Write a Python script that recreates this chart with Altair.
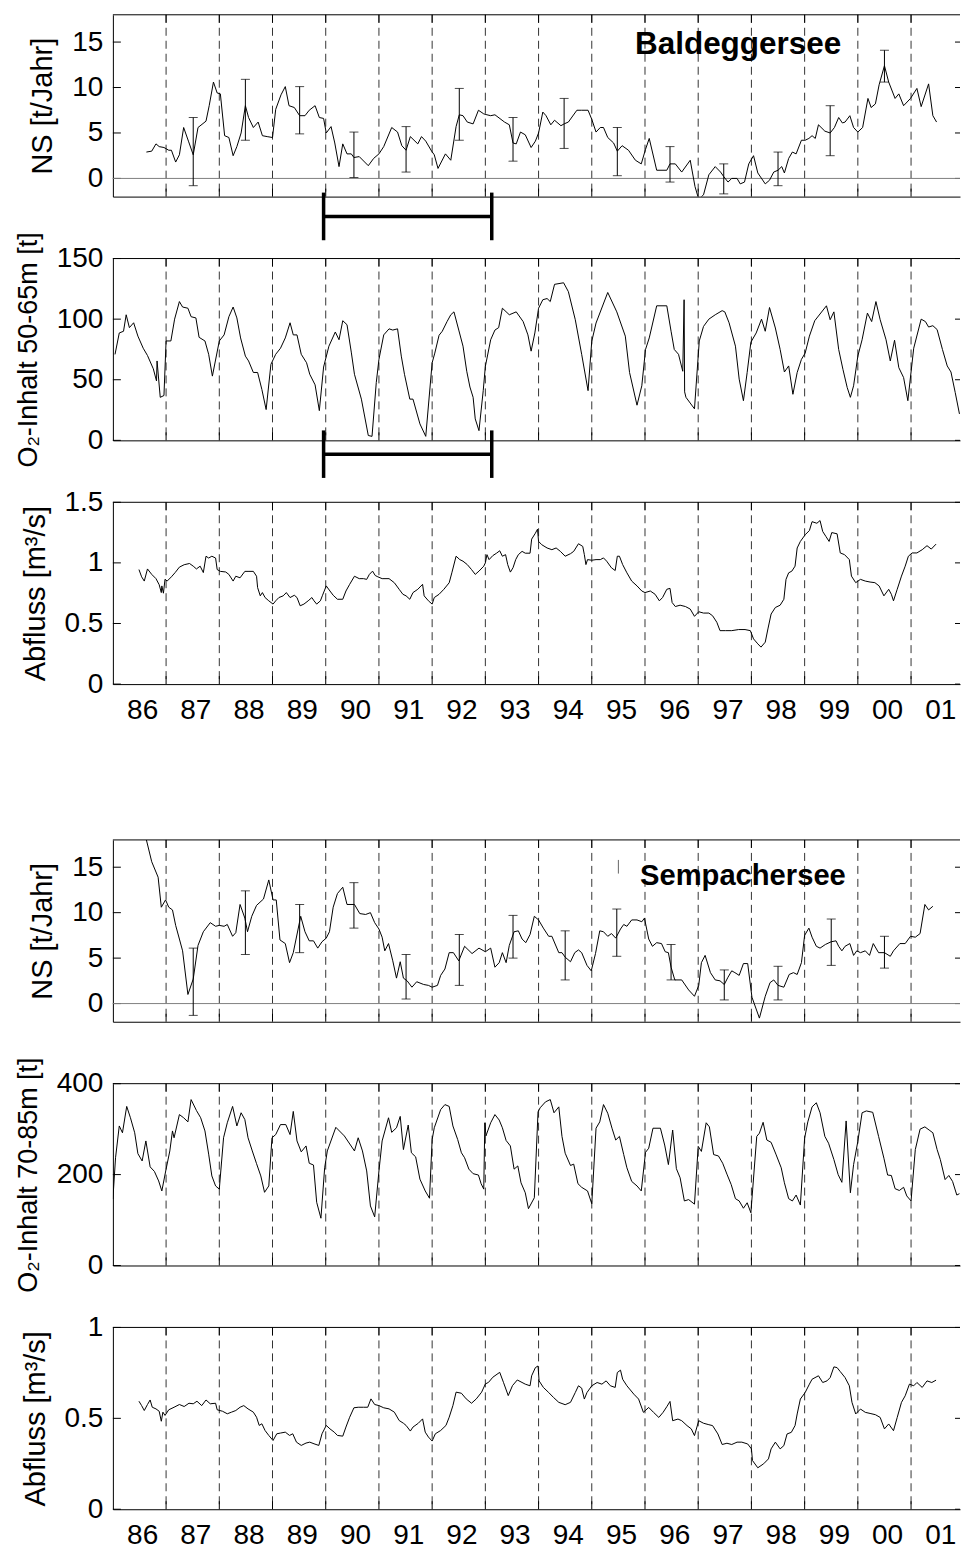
import altair as alt
import pandas as pd

# ---------------- data ----------------
YEAR_BOUNDS = list(range(1987, 2002))
YEAR_LABELS = ["86", "87", "88", "89", "90", "91", "92", "93", "94", "95",
               "96", "97", "98", "99", "00", "01"]

NS_BALDEGG = [
    (1986.63, 2.9), (1986.73, 3.0), (1986.81, 3.8), (1986.87, 3.5), (1986.96, 3.4), (1987.05, 3.1),
    (1987.10, 3.1), (1987.18, 1.8), (1987.25, 2.6), (1987.33, 5.6), (1987.42, 4.1), (1987.51, 2.6),
    (1987.60, 5.6), (1987.75, 6.3), (1987.81, 8.0), (1987.89, 10.6), (1987.96, 9.4), (1988.02, 9.3),
    (1988.10, 4.7), (1988.18, 4.5), (1988.26, 2.5), (1988.33, 3.5), (1988.41, 5.0), (1988.49, 8.0),
    (1988.55, 6.7), (1988.64, 5.6), (1988.73, 6.2), (1988.81, 4.7), (1988.90, 4.6), (1989.00, 4.5),
    (1989.06, 7.6), (1989.16, 9.2), (1989.24, 10.1), (1989.31, 8.0), (1989.41, 7.8), (1989.51, 6.9),
    (1989.61, 6.9), (1989.69, 7.5), (1989.80, 8.0), (1989.88, 6.7), (1989.96, 6.6), (1990.01, 5.0),
    (1990.10, 5.7), (1990.17, 3.9), (1990.25, 1.3), (1990.32, 3.8), (1990.40, 2.7), (1990.48, 2.7),
    (1990.53, 2.3), (1990.63, 2.4), (1990.80, 1.4), (1990.90, 2.2), (1991.00, 2.7), (1991.09, 3.5),
    (1991.24, 5.6), (1991.35, 5.1), (1991.43, 3.6), (1991.51, 3.1), (1991.59, 4.6), (1991.73, 3.8),
    (1991.80, 4.6), (1991.88, 4.1), (1991.99, 3.0), (1992.04, 2.6), (1992.11, 1.1), (1992.25, 2.7),
    (1992.35, 2.0), (1992.45, 5.7), (1992.51, 7.0), (1992.58, 6.9), (1992.66, 6.2), (1992.77, 6.0),
    (1992.87, 7.5), (1992.97, 7.1), (1993.03, 7.0), (1993.10, 6.9), (1993.18, 7.0), (1993.36, 6.2),
    (1993.45, 5.9), (1993.52, 3.9), (1993.58, 3.8), (1993.66, 5.1), (1993.75, 4.8), (1993.86, 3.4),
    (1993.94, 4.1), (1994.00, 5.0), (1994.08, 7.3), (1994.14, 6.9), (1994.23, 5.9), (1994.30, 6.4),
    (1994.42, 5.8), (1994.48, 6.0), (1994.56, 6.2), (1994.72, 7.5), (1994.81, 7.5), (1994.93, 7.5),
    (1995.00, 6.5), (1995.08, 5.1), (1995.16, 5.6), (1995.22, 5.6), (1995.30, 4.5), (1995.41, 3.9),
    (1995.48, 3.0), (1995.57, 3.6), (1995.69, 3.1), (1995.82, 2.0), (1995.93, 1.6), (1996.01, 3.2),
    (1996.08, 4.4), (1996.22, 0.9), (1996.41, 0.9), (1996.47, 1.6), (1996.57, 1.6), (1996.69, 0.7),
    (1996.85, 2.0), (1996.94, -0.9), (1997.01, -2.3), (1997.10, -1.8), (1997.20, 0.4), (1997.32, 1.3),
    (1997.42, 0.7), (1997.48, 0.2), (1997.56, -0.4), (1997.63, 0.0), (1997.73, 0.0), (1997.79, -0.6),
    (1997.87, -0.4), (1997.95, 1.6), (1998.04, 2.5), (1998.12, 0.6), (1998.26, -0.6), (1998.34, -0.2),
    (1998.42, 0.7), (1998.50, 0.9), (1998.57, 1.3), (1998.62, 0.6), (1998.70, 2.2), (1998.77, 2.9),
    (1998.84, 2.7), (1998.94, 4.2), (1999.01, 4.2), (1999.08, 4.4), (1999.14, 4.7), (1999.20, 4.4),
    (1999.26, 5.9), (1999.38, 5.2), (1999.48, 5.0), (1999.56, 5.6), (1999.64, 6.7), (1999.71, 6.1),
    (1999.76, 6.2), (1999.85, 6.9), (1999.92, 5.6), (2000.00, 5.1), (2000.09, 5.6), (2000.19, 8.8),
    (2000.25, 7.8), (2000.33, 8.2), (2000.40, 10.3), (2000.50, 12.4), (2000.58, 10.6), (2000.70, 8.8),
    (2000.77, 9.3), (2000.86, 8.0), (2000.99, 8.8), (2001.11, 9.9), (2001.19, 7.9), (2001.33, 10.4),
    (2001.41, 6.9), (2001.48, 6.2),
]
NS_BALDEGG_ERR = [  # (year, low, high)
    (1987.51, -0.8, 6.7), (1988.49, 4.2, 10.9), (1989.51, 4.9, 10.1), (1990.53, 0.1, 5.1),
    (1991.51, 0.7, 5.7), (1992.51, 4.2, 9.9), (1993.52, 1.9, 6.7), (1994.48, 3.3, 8.8),
    (1995.48, 0.3, 5.6), (1996.47, -0.4, 3.5), (1997.48, -1.7, 1.6), (1998.50, -0.8, 2.9),
    (1999.48, 2.5, 8.0), (2000.50, 10.6, 14.1),
]

O2_BALDEGG = [
    (1986.04, 70.9), (1986.12, 88.6), (1986.20, 90), (1986.25, 103.6), (1986.31, 93), (1986.39, 97),
    (1986.47, 86), (1986.57, 76), (1986.65, 70), (1986.76, 59), (1986.82, 49), (1986.83, 65.5),
    (1986.89, 35.5), (1986.96, 37), (1987.00, 82), (1987.09, 82), (1987.16, 100), (1987.25, 114.5),
    (1987.31, 110), (1987.41, 109), (1987.47, 102), (1987.56, 101), (1987.62, 85), (1987.73, 82),
    (1987.80, 71), (1987.87, 53), (1988.00, 82), (1988.09, 87), (1988.18, 102), (1988.26, 110),
    (1988.33, 101), (1988.40, 84.5), (1988.49, 69.5), (1988.55, 65.5), (1988.64, 56), (1988.72, 56),
    (1988.80, 42), (1988.88, 25.4), (1988.97, 62.7), (1989.06, 71), (1989.15, 76), (1989.24, 84.5),
    (1989.33, 97), (1989.39, 87), (1989.46, 87), (1989.54, 71), (1989.64, 64), (1989.70, 54.5),
    (1989.80, 45.8), (1989.88, 24.5), (1989.96, 60.5), (1990.06, 77.7), (1990.18, 89.4), (1990.25, 83),
    (1990.32, 98.7), (1990.40, 95.4), (1990.48, 72.8), (1990.54, 54.5), (1990.67, 34), (1990.80, 4),
    (1990.87, 3.3), (1990.95, 47.7), (1991.00, 66.8), (1991.09, 87), (1991.19, 92), (1991.26, 91),
    (1991.35, 92), (1991.42, 69.5), (1991.48, 54.5), (1991.58, 34), (1991.64, 34), (1991.77, 13.6),
    (1991.88, 3.3), (1992.00, 64), (1992.05, 72), (1992.13, 86.7), (1992.19, 90), (1992.28, 98),
    (1992.35, 103.6), (1992.41, 106), (1992.50, 91), (1992.58, 77.7), (1992.65, 57), (1992.71, 44),
    (1992.77, 35.5), (1992.81, 17.7), (1992.88, 8), (1992.96, 41), (1993.00, 61), (1993.10, 83),
    (1993.18, 91), (1993.25, 93), (1993.32, 109), (1993.45, 103.6), (1993.58, 106), (1993.71, 98),
    (1993.80, 87), (1993.86, 73.6), (1993.93, 88.6), (1994.00, 109), (1994.08, 116), (1994.16, 117),
    (1994.22, 114.5), (1994.30, 128.7), (1994.47, 130), (1994.56, 122.7), (1994.69, 99.5), (1994.81, 71),
    (1994.93, 41), (1995.00, 81.8), (1995.08, 96.8), (1995.30, 122), (1995.47, 106), (1995.63, 86),
    (1995.71, 56), (1995.85, 29), (1995.94, 45), (1996.01, 75), (1996.08, 84.5), (1996.22, 111),
    (1996.41, 111), (1996.49, 90), (1996.55, 75), (1996.63, 71), (1996.71, 57), (1996.735, 116),
    (1996.745, 40), (1996.77, 35.5), (1996.93, 26), (1997.02, 82), (1997.10, 94), (1997.20, 100),
    (1997.32, 103.6), (1997.45, 107), (1997.50, 106), (1997.58, 97), (1997.70, 77.7), (1997.77, 50.5),
    (1997.85, 32.7), (1997.92, 56), (1997.99, 81), (1998.09, 88.6), (1998.19, 100), (1998.26, 90),
    (1998.34, 109.6), (1998.45, 92.7), (1998.54, 75), (1998.62, 56.4), (1998.70, 61.4), (1998.78, 38),
    (1998.86, 56), (1998.94, 66.8), (1999.01, 72), (1999.09, 86), (1999.19, 98.7), (1999.41, 111),
    (1999.48, 99.5), (1999.55, 106), (1999.64, 75), (1999.72, 58.6), (1999.80, 43.6), (1999.86, 35.5),
    (1999.92, 45), (2000.00, 69.5), (2000.08, 83), (2000.18, 105), (2000.26, 98), (2000.34, 114.5),
    (2000.42, 99.5), (2000.53, 83), (2000.61, 65.5), (2000.69, 82.6), (2000.77, 60), (2000.86, 51.8),
    (2000.94, 32.7), (2001.05, 76), (2001.19, 100), (2001.27, 98), (2001.33, 93.5), (2001.41, 94.6),
    (2001.49, 91.4), (2001.59, 75), (2001.68, 61.4), (2001.75, 56.4), (2001.83, 39.5), (2001.91, 21.8),
]

Q_BALDEGG = [
    (1986.49, 0.945), (1986.54, 0.885), (1986.59, 0.85), (1986.65, 0.95), (1986.73, 0.905), (1986.81, 0.87),
    (1986.87, 0.82), (1986.91, 0.755), (1986.92, 0.81), (1986.95, 0.75), (1986.98, 0.865), (1987.02, 0.85),
    (1987.10, 0.885), (1987.17, 0.92), (1987.25, 0.965), (1987.34, 0.985), (1987.44, 0.995), (1987.51, 0.973),
    (1987.57, 0.95), (1987.64, 0.973), (1987.70, 0.92), (1987.75, 1.055), (1987.80, 1.04), (1987.86, 1.055),
    (1987.93, 1.04), (1987.96, 0.945), (1988.02, 0.93), (1988.12, 0.925), (1988.18, 0.905), (1988.26, 0.85),
    (1988.31, 0.89), (1988.39, 0.877), (1988.48, 0.93), (1988.54, 0.93), (1988.64, 0.93), (1988.70, 0.89),
    (1988.72, 0.796), (1988.77, 0.728), (1988.81, 0.755), (1988.86, 0.714), (1988.93, 0.687), (1989.01, 0.66),
    (1989.06, 0.687), (1989.12, 0.714), (1989.20, 0.728), (1989.26, 0.755), (1989.33, 0.714), (1989.41, 0.733),
    (1989.46, 0.714), (1989.52, 0.646), (1989.59, 0.66), (1989.67, 0.687), (1989.74, 0.714), (1989.78, 0.687),
    (1989.83, 0.66), (1989.90, 0.687), (1989.94, 0.733), (1990.01, 0.81), (1990.08, 0.768), (1990.14, 0.733),
    (1990.22, 0.70), (1990.32, 0.70), (1990.38, 0.768), (1990.45, 0.823), (1990.54, 0.89), (1990.63, 0.87),
    (1990.71, 0.87), (1990.77, 0.864), (1990.82, 0.905), (1990.88, 0.932), (1990.93, 0.896), (1990.98, 0.885),
    (1991.06, 0.87), (1991.19, 0.87), (1991.29, 0.836), (1991.38, 0.782), (1991.45, 0.741), (1991.51, 0.728),
    (1991.58, 0.70), (1991.64, 0.755), (1991.73, 0.782), (1991.82, 0.823), (1991.85, 0.728), (1991.93, 0.687),
    (1992.00, 0.66), (1992.04, 0.714), (1992.13, 0.741), (1992.22, 0.782), (1992.32, 0.836), (1992.37, 0.918),
    (1992.45, 1.055), (1992.52, 1.027), (1992.58, 1.014), (1992.66, 0.986), (1992.74, 0.945), (1992.81, 0.905),
    (1992.88, 0.932), (1992.97, 0.973), (1993.00, 1.0), (1993.03, 1.068), (1993.07, 1.027), (1993.14, 1.06),
    (1993.21, 1.08), (1993.27, 1.10), (1993.32, 1.055), (1993.38, 1.068), (1993.42, 0.986), (1993.47, 0.924),
    (1993.52, 0.96), (1993.57, 1.027), (1993.62, 1.068), (1993.69, 1.095), (1993.75, 1.08), (1993.84, 1.08),
    (1993.87, 1.196), (1993.94, 1.245), (1993.98, 1.278), (1994.00, 1.177), (1994.06, 1.15), (1994.16, 1.123),
    (1994.25, 1.109), (1994.33, 1.123), (1994.41, 1.095), (1994.50, 1.055), (1994.60, 1.076), (1994.66, 1.095),
    (1994.75, 1.158), (1994.83, 1.136), (1994.86, 1.068), (1994.89, 0.986), (1994.92, 1.027), (1995.00, 1.022),
    (1995.08, 1.027), (1995.16, 1.027), (1995.22, 1.041), (1995.28, 1.014), (1995.37, 0.959), (1995.44, 0.937),
    (1995.48, 1.055), (1995.52, 1.055), (1995.58, 0.986), (1995.66, 0.918), (1995.75, 0.85), (1995.85, 0.81),
    (1995.94, 0.768), (1996.00, 0.755), (1996.10, 0.768), (1996.19, 0.741), (1996.27, 0.687), (1996.33, 0.714),
    (1996.41, 0.782), (1996.47, 0.79), (1996.51, 0.673), (1996.57, 0.64), (1996.66, 0.651), (1996.76, 0.64),
    (1996.85, 0.619), (1996.93, 0.559), (1997.01, 0.597), (1997.10, 0.586), (1997.20, 0.586), (1997.27, 0.564),
    (1997.35, 0.51), (1997.41, 0.441), (1997.51, 0.441), (1997.63, 0.441), (1997.76, 0.45), (1997.88, 0.45),
    (1997.98, 0.441), (1998.04, 0.373), (1998.12, 0.332), (1998.18, 0.305), (1998.26, 0.346), (1998.31, 0.455),
    (1998.37, 0.578), (1998.45, 0.632), (1998.54, 0.651), (1998.61, 0.70), (1998.65, 0.864), (1998.70, 0.918),
    (1998.76, 0.932), (1998.82, 0.973), (1998.86, 1.123), (1998.92, 1.177), (1999.01, 1.232), (1999.09, 1.267),
    (1999.14, 1.34), (1999.23, 1.327), (1999.29, 1.349), (1999.34, 1.259), (1999.40, 1.218), (1999.46, 1.177),
    (1999.51, 1.25), (1999.61, 1.24), (1999.67, 1.082), (1999.75, 1.068), (1999.84, 1.027), (1999.88, 0.891),
    (1999.96, 0.837), (2000.05, 0.864), (2000.14, 0.85), (2000.23, 0.842), (2000.32, 0.837), (2000.40, 0.81),
    (2000.49, 0.728), (2000.58, 0.782), (2000.63, 0.741), (2000.67, 0.687), (2000.74, 0.782), (2000.82, 0.891),
    (2000.89, 0.973), (2000.95, 1.055), (2001.02, 1.082), (2001.11, 1.082), (2001.21, 1.109), (2001.30, 1.142),
    (2001.38, 1.114), (2001.47, 1.155),
]

NS_SEMPACH = [
    (1986.63, 18.0), (1986.73, 15.6), (1986.85, 13.9), (1986.91, 10.6), (1986.99, 11.4), (1987.05, 10.6),
    (1987.12, 10.3), (1987.18, 8.6), (1987.25, 7.1), (1987.31, 5.8), (1987.41, 1.0), (1987.51, 2.7),
    (1987.60, 6.4), (1987.70, 7.9), (1987.83, 8.9), (1987.93, 8.5), (1988.00, 8.6), (1988.09, 8.5),
    (1988.15, 8.7), (1988.25, 7.4), (1988.31, 7.8), (1988.39, 10.9), (1988.48, 9.4), (1988.53, 7.9),
    (1988.61, 9.6), (1988.70, 10.8), (1988.83, 11.5), (1988.93, 13.6), (1989.01, 11.4), (1989.07, 11.4),
    (1989.14, 7.0), (1989.24, 6.6), (1989.32, 4.5), (1989.39, 5.6), (1989.53, 9.6), (1989.61, 7.9),
    (1989.69, 6.9), (1989.77, 6.9), (1989.85, 6.1), (1989.93, 6.8), (1990.01, 7.2), (1990.07, 7.9),
    (1990.14, 10.6), (1990.22, 12.1), (1990.32, 12.8), (1990.40, 10.9), (1990.54, 10.9), (1990.64, 9.9),
    (1990.75, 9.8), (1990.84, 10.0), (1990.92, 8.9), (1991.00, 8.2), (1991.06, 7.3), (1991.11, 5.8),
    (1991.18, 6.6), (1991.26, 4.7), (1991.33, 2.8), (1991.40, 4.6), (1991.46, 2.8), (1991.53, 2.5),
    (1991.62, 1.8), (1991.71, 2.4), (1991.84, 2.1), (1991.93, 2.0), (1992.00, 1.8), (1992.10, 2.0),
    (1992.16, 3.1), (1992.24, 3.8), (1992.32, 5.6), (1992.40, 5.6), (1992.50, 4.7), (1992.61, 6.3),
    (1992.75, 5.5), (1992.88, 6.1), (1993.00, 5.7), (1993.10, 6.1), (1993.18, 4.0), (1993.26, 4.5),
    (1993.32, 5.6), (1993.39, 4.5), (1993.45, 6.4), (1993.54, 7.9), (1993.62, 8.0), (1993.69, 7.1),
    (1993.76, 6.7), (1993.84, 7.6), (1993.92, 9.6), (1994.00, 9.2), (1994.09, 8.3), (1994.19, 7.4),
    (1994.25, 7.4), (1994.38, 5.6), (1994.44, 5.6), (1994.50, 5.1), (1994.60, 4.6), (1994.68, 5.6),
    (1994.75, 5.9), (1994.81, 5.6), (1994.91, 4.2), (1994.99, 3.6), (1995.07, 5.5), (1995.15, 8.0),
    (1995.22, 7.9), (1995.30, 7.4), (1995.37, 7.7), (1995.45, 7.2), (1995.54, 8.2), (1995.60, 8.7),
    (1995.66, 8.5), (1995.75, 9.2), (1995.85, 9.2), (1995.94, 9.0), (1995.99, 9.4), (1996.07, 7.1),
    (1996.14, 6.3), (1996.22, 6.7), (1996.31, 6.6), (1996.38, 5.7), (1996.44, 5.6), (1996.49, 4.0),
    (1996.56, 2.6), (1996.69, 2.6), (1996.82, 1.5), (1996.93, 0.8), (1997.01, 2.0), (1997.06, 4.5),
    (1997.13, 5.3), (1997.23, 3.4), (1997.32, 2.6), (1997.41, 2.5), (1997.49, 2.1), (1997.56, 2.9),
    (1997.63, 3.6), (1997.69, 3.4), (1997.77, 3.1), (1997.85, 4.4), (1997.93, 4.4), (1998.01, 0.7),
    (1998.15, -1.6), (1998.26, 0.8), (1998.35, 2.3), (1998.42, 2.6), (1998.50, 2.0), (1998.61, 1.8),
    (1998.71, 3.2), (1998.79, 3.4), (1998.86, 3.2), (1998.94, 4.5), (1999.00, 7.5), (1999.08, 8.3),
    (1999.14, 7.3), (1999.22, 6.3), (1999.29, 6.1), (1999.39, 6.5), (1999.50, 6.8), (1999.59, 6.9),
    (1999.64, 6.3), (1999.70, 5.8), (1999.76, 6.3), (1999.85, 6.6), (1999.92, 5.3), (1999.98, 5.8),
    (2000.05, 5.6), (2000.14, 5.8), (2000.22, 5.3), (2000.29, 6.6), (2000.39, 5.6), (2000.50, 5.6),
    (2000.61, 5.2), (2000.67, 5.8), (2000.79, 6.6), (2000.89, 6.6), (2000.99, 7.4), (2001.08, 7.3),
    (2001.17, 7.7), (2001.26, 10.9), (2001.33, 10.3), (2001.41, 10.7),
]
NS_SEMPACH_ERR = [
    (1987.51, -1.3, 6.1), (1988.49, 5.4, 12.4), (1989.51, 5.6, 10.9), (1990.53, 8.3, 13.3),
    (1991.51, 0.5, 5.4), (1992.51, 2.0, 7.6), (1993.52, 5.0, 9.7), (1994.50, 2.6, 8.0),
    (1995.47, 5.2, 10.4), (1996.49, 2.6, 6.5), (1997.49, 0.4, 3.7), (1998.50, 0.4, 4.1),
    (1999.50, 4.2, 9.3), (2000.50, 3.9, 7.4),
]
# small stray stroke left of the "Sempachersee" label (year, low, high)
SEMPACH_MARK = [(1995.50, 14.3, 15.8)]

O2_SEMPACH = [
    (1986.00, 146), (1986.05, 237), (1986.12, 307), (1986.18, 292), (1986.26, 350), (1986.33, 325),
    (1986.41, 292), (1986.47, 246), (1986.55, 230), (1986.62, 274), (1986.70, 217), (1986.78, 207),
    (1986.86, 186), (1986.92, 164), (1987.00, 212), (1987.07, 252), (1987.12, 296), (1987.15, 281),
    (1987.25, 332), (1987.33, 325), (1987.41, 316), (1987.47, 365), (1987.57, 341), (1987.65, 325),
    (1987.73, 296), (1987.80, 245), (1987.86, 197), (1987.93, 175), (1988.00, 168), (1988.08, 281),
    (1988.15, 314), (1988.25, 350), (1988.33, 307), (1988.41, 336), (1988.48, 321), (1988.54, 281),
    (1988.62, 252), (1988.70, 224), (1988.78, 197), (1988.85, 161), (1988.93, 175), (1988.99, 281),
    (1989.06, 288), (1989.15, 310), (1989.25, 310), (1989.33, 288), (1989.39, 339), (1989.46, 274),
    (1989.54, 250), (1989.63, 263), (1989.69, 225), (1989.77, 221), (1989.83, 139), (1989.91, 104),
    (1989.98, 215), (1990.03, 252), (1990.19, 304), (1990.35, 285), (1990.54, 252), (1990.61, 281),
    (1990.69, 252), (1990.77, 208), (1990.84, 131), (1990.92, 107), (1991.00, 208), (1991.06, 274),
    (1991.18, 325), (1991.24, 293), (1991.33, 303), (1991.40, 328), (1991.46, 255), (1991.55, 309),
    (1991.61, 248), (1991.69, 239), (1991.77, 190), (1991.87, 164), (1991.95, 148), (1992.00, 277),
    (1992.04, 303), (1992.16, 343), (1992.24, 354), (1992.32, 350), (1992.39, 307), (1992.48, 277),
    (1992.55, 248), (1992.61, 237), (1992.69, 212), (1992.77, 202), (1992.87, 199), (1992.92, 180),
    (1992.97, 168), (1992.99, 314), (1993.01, 285), (1993.10, 314), (1993.18, 332), (1993.26, 320),
    (1993.32, 303), (1993.39, 275), (1993.47, 263), (1993.54, 212), (1993.61, 219), (1993.67, 182),
    (1993.75, 160), (1993.81, 125), (1993.92, 149), (1993.99, 338), (1994.03, 347), (1994.13, 360),
    (1994.22, 365), (1994.29, 336), (1994.38, 349), (1994.44, 284), (1994.50, 247), (1994.60, 220),
    (1994.66, 223), (1994.74, 180), (1994.81, 172), (1994.92, 164), (1995.00, 136), (1995.08, 302),
    (1995.15, 316), (1995.22, 354), (1995.30, 335), (1995.38, 302), (1995.45, 276), (1995.52, 284),
    (1995.60, 244), (1995.66, 215), (1995.75, 185), (1995.85, 175), (1995.93, 164), (1996.01, 249),
    (1996.07, 258), (1996.15, 302), (1996.29, 302), (1996.37, 265), (1996.44, 222), (1996.52, 298),
    (1996.59, 213), (1996.66, 193), (1996.74, 142), (1996.82, 145), (1996.93, 135), (1997.00, 262),
    (1997.06, 251), (1997.15, 314), (1997.21, 305), (1997.29, 244), (1997.38, 241), (1997.46, 225),
    (1997.54, 201), (1997.62, 178), (1997.70, 147), (1997.77, 142), (1997.85, 126), (1997.92, 138),
    (1997.99, 116), (1998.10, 284), (1998.15, 291), (1998.22, 315), (1998.29, 276), (1998.37, 271),
    (1998.46, 245), (1998.56, 215), (1998.62, 182), (1998.70, 147), (1998.77, 142), (1998.84, 155),
    (1998.92, 133), (1999.00, 280), (1999.06, 316), (1999.14, 349), (1999.22, 358), (1999.29, 336),
    (1999.38, 284), (1999.45, 269), (1999.55, 233), (1999.63, 200), (1999.70, 183), (1999.78, 318),
    (1999.86, 160), (1999.92, 222), (2000.00, 273), (2000.08, 336), (2000.16, 340), (2000.28, 337),
    (2000.39, 284), (2000.49, 236), (2000.56, 199), (2000.63, 198), (2000.70, 169), (2000.78, 165),
    (2000.86, 172), (2000.92, 153), (2001.00, 142), (2001.08, 255), (2001.17, 300), (2001.26, 305),
    (2001.34, 298), (2001.41, 292), (2001.49, 255), (2001.55, 233), (2001.64, 189), (2001.71, 198),
    (2001.78, 185), (2001.86, 155), (2001.91, 158),
]

Q_SEMPACH = [
    (1986.49, 0.594), (1986.54, 0.570), (1986.59, 0.543), (1986.65, 0.576), (1986.70, 0.601), (1986.74, 0.561),
    (1986.81, 0.552), (1986.87, 0.539), (1986.91, 0.484), (1986.94, 0.534), (1986.98, 0.516), (1987.05, 0.547),
    (1987.15, 0.561), (1987.25, 0.576), (1987.34, 0.565), (1987.43, 0.583), (1987.51, 0.580), (1987.58, 0.594),
    (1987.67, 0.570), (1987.75, 0.601), (1987.83, 0.580), (1987.93, 0.583), (1987.96, 0.547), (1988.06, 0.539),
    (1988.15, 0.525), (1988.23, 0.534), (1988.31, 0.543), (1988.39, 0.561), (1988.46, 0.570), (1988.54, 0.552),
    (1988.64, 0.534), (1988.70, 0.506), (1988.75, 0.461), (1988.80, 0.470), (1988.86, 0.433), (1988.93, 0.406),
    (1989.01, 0.378), (1989.08, 0.415), (1989.15, 0.419), (1989.24, 0.424), (1989.32, 0.406), (1989.38, 0.415),
    (1989.45, 0.369), (1989.54, 0.351), (1989.63, 0.364), (1989.70, 0.369), (1989.78, 0.360), (1989.87, 0.351),
    (1989.93, 0.415), (1990.01, 0.461), (1990.08, 0.442), (1990.16, 0.424), (1990.22, 0.406), (1990.32, 0.402),
    (1990.38, 0.452), (1990.45, 0.506), (1990.53, 0.558), (1990.61, 0.561), (1990.71, 0.561), (1990.79, 0.561),
    (1990.85, 0.607), (1990.92, 0.576), (1991.00, 0.570), (1991.09, 0.558), (1991.19, 0.552), (1991.29, 0.534),
    (1991.38, 0.488), (1991.46, 0.473), (1991.51, 0.461), (1991.59, 0.430), (1991.64, 0.452), (1991.74, 0.473),
    (1991.82, 0.497), (1991.87, 0.424), (1991.93, 0.397), (1992.00, 0.375), (1992.06, 0.415), (1992.16, 0.433),
    (1992.26, 0.461), (1992.32, 0.506), (1992.39, 0.570), (1992.45, 0.644), (1992.55, 0.638), (1992.64, 0.607),
    (1992.74, 0.583), (1992.83, 0.607), (1992.93, 0.644), (1993.00, 0.689), (1993.06, 0.698), (1993.14, 0.726),
    (1993.27, 0.753), (1993.34, 0.698), (1993.43, 0.625), (1993.51, 0.680), (1993.60, 0.711), (1993.75, 0.688),
    (1993.84, 0.679), (1993.87, 0.734), (1993.94, 0.779), (1993.99, 0.788), (1994.01, 0.706), (1994.09, 0.670),
    (1994.19, 0.642), (1994.28, 0.615), (1994.38, 0.588), (1994.50, 0.575), (1994.60, 0.588), (1994.69, 0.642),
    (1994.75, 0.679), (1994.81, 0.666), (1994.86, 0.606), (1994.91, 0.642), (1995.00, 0.679), (1995.10, 0.697),
    (1995.19, 0.688), (1995.27, 0.706), (1995.35, 0.679), (1995.44, 0.670), (1995.48, 0.752), (1995.54, 0.765),
    (1995.58, 0.715), (1995.66, 0.679), (1995.79, 0.633), (1995.88, 0.606), (1995.97, 0.533), (1996.07, 0.560),
    (1996.16, 0.533), (1996.26, 0.505), (1996.34, 0.533), (1996.41, 0.564), (1996.47, 0.593), (1996.52, 0.487),
    (1996.62, 0.496), (1996.69, 0.487), (1996.79, 0.460), (1996.87, 0.442), (1996.93, 0.405), (1997.01, 0.487),
    (1997.10, 0.473), (1997.20, 0.465), (1997.27, 0.460), (1997.37, 0.414), (1997.45, 0.356), (1997.54, 0.363),
    (1997.63, 0.356), (1997.73, 0.369), (1997.82, 0.369), (1997.93, 0.359), (1998.00, 0.332), (1998.02, 0.268),
    (1998.12, 0.228), (1998.23, 0.250), (1998.32, 0.277), (1998.37, 0.332), (1998.45, 0.369), (1998.54, 0.332),
    (1998.61, 0.350), (1998.67, 0.414), (1998.75, 0.423), (1998.82, 0.460), (1998.86, 0.524), (1998.92, 0.606),
    (1999.01, 0.642), (1999.09, 0.688), (1999.14, 0.715), (1999.26, 0.734), (1999.34, 0.697), (1999.42, 0.706),
    (1999.48, 0.724), (1999.55, 0.783), (1999.61, 0.779), (1999.67, 0.757), (1999.76, 0.724), (1999.84, 0.679),
    (1999.89, 0.588), (1999.96, 0.524), (2000.05, 0.551), (2000.14, 0.533), (2000.23, 0.527), (2000.33, 0.520),
    (2000.42, 0.505), (2000.50, 0.442), (2000.58, 0.469), (2000.67, 0.432), (2000.74, 0.505), (2000.82, 0.588),
    (2000.89, 0.624), (2000.97, 0.688), (2001.05, 0.679), (2001.11, 0.697), (2001.21, 0.670), (2001.30, 0.706),
    (2001.39, 0.697), (2001.47, 0.710),
]

# time window marked by the thick brackets (years) and the levels they sit at (panel units)
BRACKET_YEARS = (1989.96, 1993.12)
BRACKET_P1 = (-4.2, -1.56, -6.8)    # bar level, cap top, cap bottom
BRACKET_P2 = (-11.5, 8.2, -31.0)

# ---------------- layout / style ----------------
W = 848
H = 182
X_DOMAIN = [1986, 2001.92]
LABEL_POS = [1986.55 + i for i in range(len(YEAR_LABELS))]
FONT = "Liberation Sans"
LABEL_SIZE = 28
TITLE_SIZE = 29
LABEL_EXPR = "[" + ",".join("'%s'" % s for s in YEAR_LABELS) + "][floor(datum.value) - 1986]"


def xenc(show_labels):
    return alt.X(
        "x:Q",
        scale=alt.Scale(domain=X_DOMAIN, nice=False, zero=False),
        axis=alt.Axis(values=LABEL_POS, labelExpr=LABEL_EXPR, labels=show_labels, ticks=False,
                      grid=False, domain=True, domainColor="black", domainWidth=1, title=None,
                      labelFont=FONT, labelFontSize=LABEL_SIZE, labelColor="black",
                      labelPadding=12, labelFlush=False, labelOverlap=False),
    )


def yenc(cfg):
    return alt.Y(
        "y:Q",
        scale=alt.Scale(domain=cfg["domain"], nice=False, zero=False),
        axis=alt.Axis(values=cfg["ticks"], format="~f", ticks=False, grid=False, domain=True,
                      domainColor="black", domainWidth=1, title=cfg["title"],
                      titleFont=FONT, titleFontSize=cfg.get("tsize", TITLE_SIZE),
                      titleFontWeight="normal", titleColor="black", titlePadding=14,
                      labelFont=FONT, labelFontSize=LABEL_SIZE, labelColor="black", labelPadding=10,
                      labelFlush=False, labelOverlap=False),
    )


def make_panel(series, cfg, show_labels, err=None, name=None, name_pos=None, name_size=30,
               bracket=None, zero_line=False, stray=None):
    X = xenc(show_labels)
    Y = yenc(cfg)
    df_line = pd.DataFrame(series, columns=["x", "y"])
    df_years = pd.DataFrame({"x": YEAR_BOUNDS})
    df_yt = pd.DataFrame({"y": cfg["ticks"]})
    layers = []
    layers.append(alt.Chart(df_years).mark_rule(color="black", strokeWidth=0.8, strokeDash=[8, 5])
                  .encode(x=X))
    layers.append(alt.Chart(df_years).mark_rule(color="black", strokeWidth=1)
                  .encode(x=X, y=alt.value(H - 8), y2=alt.value(H)))
    layers.append(alt.Chart(df_years).mark_rule(color="black", strokeWidth=1)
                  .encode(x=X, y=alt.value(0), y2=alt.value(8)))
    layers.append(alt.Chart(df_yt).mark_rule(color="black", strokeWidth=1)
                  .encode(y=Y, x=alt.value(0), x2=alt.value(8)))
    layers.append(alt.Chart(df_yt).mark_rule(color="black", strokeWidth=1)
                  .encode(y=Y, x=alt.value(W - 5), x2=alt.value(W)))
    layers.append(alt.Chart(pd.DataFrame({"y": [cfg["domain"][1]]})).mark_rule(color="black", strokeWidth=1)
                  .encode(y=alt.value(0), x=alt.value(0), x2=alt.value(W)))
    if zero_line:
        layers.append(alt.Chart(pd.DataFrame({"y": [0]})).mark_rule(color="#808080", strokeWidth=1)
                      .encode(y=Y, x=alt.value(0), x2=alt.value(W)))
    layers.append(alt.Chart(df_line).mark_line(color="black", strokeWidth=1, clip=True)
                  .encode(x=X, y=Y, order="x:Q"))
    if err is not None:
        df_e = pd.DataFrame(err, columns=["x", "y", "y2"])
        layers.append(alt.Chart(df_e).mark_rule(color="black", strokeWidth=1)
                      .encode(x=X, y=Y, y2="y2:Q"))
        caps = [(e[0], e[1]) for e in err] + [(e[0], e[2]) for e in err]
        df_c = pd.DataFrame(caps, columns=["x", "y"])
        layers.append(alt.Chart(df_c).mark_tick(color="black", orient="horizontal", size=9, thickness=1)
                      .encode(x=X, y=Y))
    if stray is not None:
        df_s = pd.DataFrame(stray, columns=["x", "y", "y2"])
        layers.append(alt.Chart(df_s).mark_rule(color="#666666", strokeWidth=1)
                      .encode(x=X, y=Y, y2="y2:Q"))
    if name is not None:
        df_t = pd.DataFrame({"x": [name_pos[0]], "y": [name_pos[1]], "t": [name]})
        layers.append(alt.Chart(df_t).mark_text(font=FONT, fontSize=name_size, fontWeight="bold",
                                                 color="black", align="center", baseline="alphabetic")
                      .encode(x=X, y=Y, text="t:N"))
    if bracket is not None:
        bar, ctop, cbot = bracket
        df_b = pd.DataFrame({"x": [BRACKET_YEARS[0]], "x2": [BRACKET_YEARS[1]], "y": [bar]})
        layers.append(alt.Chart(df_b).mark_rule(color="black", strokeWidth=3.5)
                      .encode(x=X, x2="x2:Q", y=Y))
        df_bc = pd.DataFrame({"x": list(BRACKET_YEARS), "y": [ctop, ctop], "y2": [cbot, cbot]})
        layers.append(alt.Chart(df_bc).mark_rule(color="black", strokeWidth=3.5)
                      .encode(x=X, y=Y, y2="y2:Q"))
    return alt.layer(*layers).properties(width=W, height=H)


NS_CFG = {"domain": [-2, 18], "ticks": [0, 5, 10, 15], "title": "NS [t/Jahr]"}
O2B_CFG = {"domain": [0, 150], "ticks": [0, 50, 100, 150], "title": "O₂-Inhalt 50-65m [t]", "tsize": 27}
QB_CFG = {"domain": [0, 1.5], "ticks": [0, 0.5, 1, 1.5], "title": "Abfluss [m³/s]"}
O2S_CFG = {"domain": [0, 400], "ticks": [0, 200, 400], "title": "O₂-Inhalt 70-85m [t]", "tsize": 27}
QS_CFG = {"domain": [0, 1], "ticks": [0, 0.5, 1], "title": "Abfluss [m³/s]"}

p1 = make_panel(NS_BALDEGG, NS_CFG, False, err=NS_BALDEGG_ERR, name="Baldeggersee",
                name_pos=(1997.75, 13.7), name_size=31.5, bracket=BRACKET_P1, zero_line=True)
p2 = make_panel(O2_BALDEGG, O2B_CFG, False, bracket=BRACKET_P2)
p3 = make_panel(Q_BALDEGG, QB_CFG, True)
p4 = make_panel(NS_SEMPACH, NS_CFG, False, err=NS_SEMPACH_ERR, name="Sempachersee",
                name_pos=(1997.84, 13.0), name_size=29.2, zero_line=True, stray=SEMPACH_MARK)
p5 = make_panel(O2_SEMPACH, O2S_CFG, False)
p6 = make_panel(Q_SEMPACH, QS_CFG, True)

spacer = alt.Chart(pd.DataFrame({"x": [0]})).mark_point(opacity=0).encode(
    x=alt.X("x:Q", axis=None), y=alt.Y("x:Q", axis=None)).properties(width=W, height=32)

chart = alt.vconcat(p1, p2, p3, spacer, p4, p5, p6, spacing=62, bounds="flush").properties(
    padding={"left": 14, "top": 13, "right": 0, "bottom": 3},
    background="white",
).configure_view(stroke=None)

chart.save("out.html", embed_options={"renderer": "svg", "actions": False})
